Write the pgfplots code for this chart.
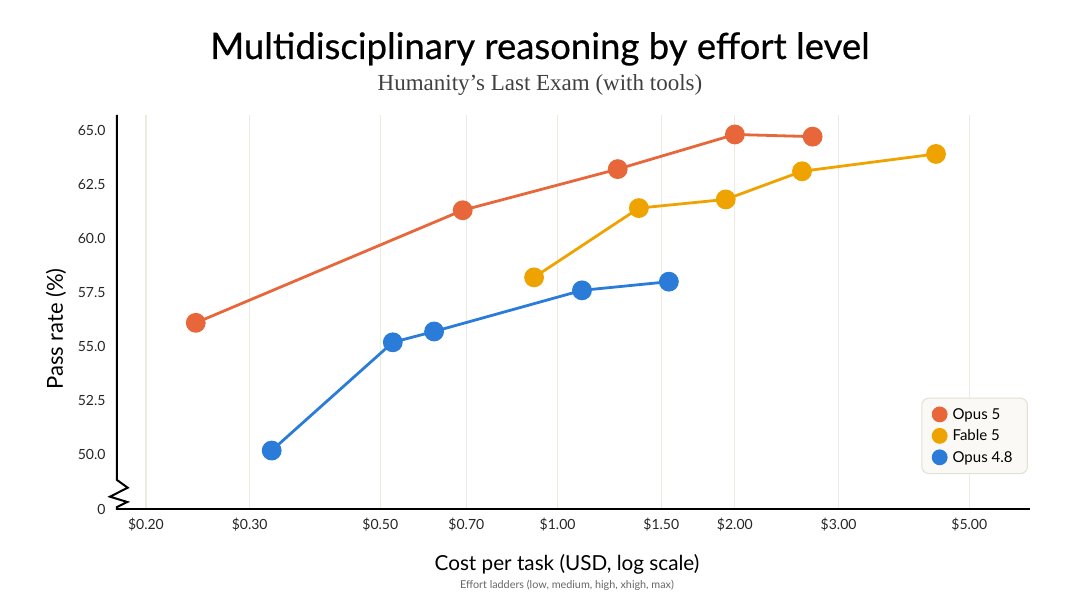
\documentclass[border=0pt]{standalone}
\usepackage{fontspec}
\setmainfont{Lato}
\newfontfamily\serifsub{Liberation Serif}
\newfontfamily\titlefont{Lato}[FakeBold=0.5]
\usepackage{pgfplots}
\pgfplotsset{compat=1.18}
\definecolor{copus}{RGB}{232,103,58}
\definecolor{cfable}{RGB}{238,163,0}
\definecolor{cblue}{RGB}{43,124,217}
\definecolor{gridc}{RGB}{236,235,226}
\definecolor{legfill}{RGB}{250,249,245}
\definecolor{legdraw}{RGB}{226,224,214}
\begin{document}
\begin{tikzpicture}[x=1pt,y=1pt]
\useasboundingbox (-117,-99) rectangle (963,509);
\begin{axis}[
  at={(0pt,0pt)}, anchor=south west,
  scale only axis, width=913pt, height=394pt,
  xmode=log, xmin=0.1786, xmax=6.34, ymin=47.5, ymax=65.7,
  axis x line*=bottom, axis y line*=left,
  axis line style={-},
  y axis line style={draw=none},
  x axis line style={line width=2pt, black},
  xtick={0.2,0.3,0.5,0.7,1,1.5,2,3,5},
  xticklabels={\$0.20,\$0.30,\$0.50,\$0.70,\$1.00,\$1.50,\$2.00,\$3.00,\$5.00},
  ytick={47.5,50,52.5,55,57.5,60,62.5,65},
  yticklabels={0,50.0,52.5,55.0,57.5,60.0,62.5,65.0},
  major tick length=0pt, minor tick num=0,
  xmajorgrids, major grid style={gridc, line width=1.2pt},
  tick label style={font=\fontsize{14}{16}\selectfont, text=black!85},
  xticklabel shift=5pt, yticklabel shift=8pt,
  every axis plot/.append style={line width=2.8pt, mark=*, mark size=8.5pt},
  legend image code/.code={\fill[#1] (0.1cm,0cm) circle (6.5pt);},
  legend style={at={(0.9978,0.0888)}, anchor=south east, draw=legdraw, fill=legfill,
    rounded corners=7pt, line width=1pt, font=\fontsize{15}{17}\selectfont,
    inner xsep=10pt, inner ysep=8pt, row sep=5pt,
    nodes={inner xsep=5pt}},
  legend cell align=left,
]
\addplot[copus, mark options={fill=copus}] coordinates {(0.243,56.1) (0.690,61.3) (1.265,63.2) (2.0,64.8) (2.71,64.7)};
\addlegendentry{Opus 5}
\addplot[cfable, mark options={fill=cfable}] coordinates {(0.912,58.2) (1.374,61.4) (1.93,61.8) (2.60,63.1) (4.39,63.9)};
\addlegendentry{Fable 5}
\addplot[cblue, mark options={fill=cblue}] coordinates {(0.327,50.2) (0.525,55.2) (0.617,55.7) (1.10,57.6) (1.545,58.0)};
\addlegendentry{Opus 4.8}
\end{axis}
\draw[line width=2pt, line join=miter, black] (0,394) -- (0,29) -- (10.7,21.3) -- (-7,12.3) -- (10.3,7) -- (0,2) -- (0,-1);
\node[anchor=base, font=\titlefont\fontsize{36.5}{42}\selectfont] at (423,450) {Multidisciplinary reasoning by effort level};
\node[anchor=base, font=\serifsub\fontsize{23}{27}\selectfont, text=black!75] at (423,418) {Humanity’s Last Exam (with tools)};
\node[anchor=base, font=\fontsize{20.7}{24}\selectfont] at (450,-62) {Cost per task (USD, log scale)};
\node[anchor=base, font=\fontsize{10.8}{12}\selectfont, text=black!60] at (450,-80) {Effort ladders (low, medium, high, xhigh, max)};
\node[anchor=base, rotate=90, font=\fontsize{22}{26}\selectfont] at (-54,180) {Pass rate (\%)};
\end{tikzpicture}
\end{document}
